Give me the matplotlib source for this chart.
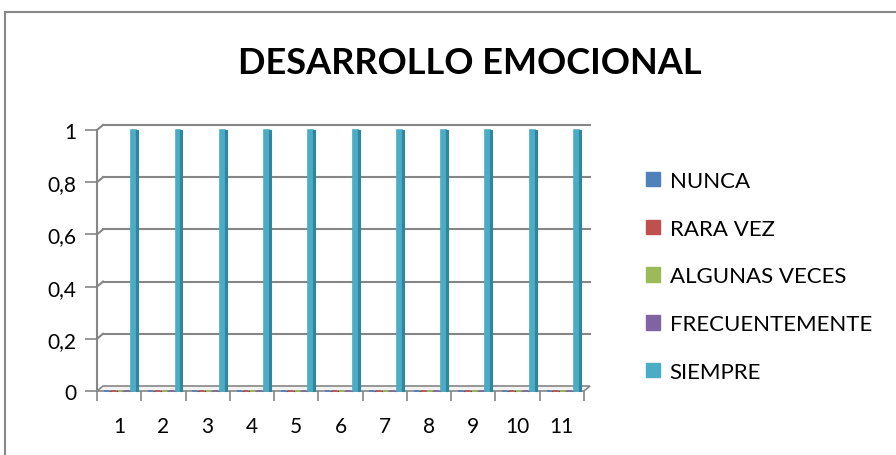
import matplotlib.pyplot as plt
from matplotlib.patches import Rectangle, Patch, Polygon
from matplotlib.lines import Line2D
from matplotlib.transforms import IdentityTransform
import numpy as np

plt.rcParams['font.family'] = ['Lato', 'DejaVu Sans']

categorias = ['1', '2', '3', '4', '5', '6', '7', '8', '9', '10', '11']
series = ['NUNCA', 'RARA VEZ', 'ALGUNAS VECES', 'FRECUENTEMENTE', 'SIEMPRE']
nunca = [0, 0, 0, 0, 0, 0, 0, 0, 0, 0, 0]
rara_vez = [0, 0, 0, 0, 0, 0, 0, 0, 0, 0, 0]
algunas_veces = [0, 0, 0, 0, 0, 0, 0, 0, 0, 0, 0]
frecuentemente = [0, 0, 0, 0, 0, 0, 0, 0, 0, 0, 0]
siempre = [1, 1, 1, 1, 1, 1, 1, 1, 1, 1, 1]
yticks = [0, 0.2, 0.4, 0.6, 0.8, 1]
ylabels = ['0', '0,2', '0,4', '0,6', '0,8', '1']

colores = ['#4F81BD', '#C0504D', '#9BBB59', '#8064A2', '#4BACC6']
sombras = ['#385D8A', '#8C3836', '#71893F', '#5C4776', '#31859C']
gris = '#868686'

fig = plt.figure(figsize=(8.96, 4.56), dpi=100)
# eje frontal (en pixeles: x 97..584, y 131..392)
ax = fig.add_axes([97 / 896, 1 - 392 / 456, 487 / 896, 261 / 456])
dx, dy = 6, 5  # profundidad del efecto 3D

x = np.arange(len(categorias))
w = 0.155
datos = [nunca, rara_vez, algunas_veces, frecuentemente, siempre]
for i, vals in enumerate(datos):
    pos = x + (i - 2) * w + 0.02
    ax.bar(pos, vals, width=w * 0.72, color=colores[i], edgecolor=colores[i],
           linewidth=1.2, zorder=4, clip_on=False)
    ax.bar(pos + w * 0.5, vals, width=w * 0.28, color=sombras[i],
           edgecolor=sombras[i], linewidth=0.8, zorder=4, clip_on=False)

ax.set_xlim(-0.5, len(categorias) - 0.5)
ax.set_ylim(0, 1)
ax.set_yticks(yticks)
ax.set_yticklabels(ylabels)
ax.set_xticks(x)
ax.set_xticklabels(categorias)
ax.set_xticks(np.arange(len(categorias) + 1) - 0.5, minor=True)
ax.tick_params(axis='x', which='major', length=0, labelsize=15, pad=18)
ax.tick_params(axis='x', which='minor', length=7, width=1.2, color=gris)
ax.tick_params(axis='y', length=9, width=1.2, color=gris, labelsize=15, pad=6)
for s in ['top', 'right', 'bottom']:
    ax.spines[s].set_visible(False)
ax.spines['left'].set_color(gris)
ax.spines['left'].set_linewidth(1.5)

# rejilla de fondo desplazada con diagonales y suelo (coordenadas en pixeles)
ident = IdentityTransform()
x0, x1 = 97, 584
for t in yticks:
    yp = ax.transData.transform((0, t))[1]
    if t == 0:
        ax.add_patch(Polygon([[x0, yp], [x1, yp], [x1 + dx, yp + dy], [x0 + dx, yp + dy]],
                             closed=True, transform=ident, facecolor='#F2F2F2',
                             edgecolor=gris, linewidth=1.2, zorder=1, clip_on=False))
        continue
    ax.add_line(Line2D([x0 + dx, x1 + dx], [yp + dy, yp + dy], transform=ident,
                       color=gris, linewidth=1.5, zorder=1, clip_on=False))
    ax.add_line(Line2D([x0, x0 + dx], [yp, yp + dy], transform=ident,
                       color=gris, linewidth=1.5, zorder=1, clip_on=False))

fig.text(470 / 896, 1 - 64 / 456, 'DESARROLLO EMOCIONAL', ha='center', va='center',
         fontsize=26, fontweight='bold')

handles = [Patch(facecolor=c, edgecolor=c) for c in colores]
fig.legend(handles, series, loc='upper left', bbox_to_anchor=(637 / 896, 1 - 163 / 456),
           frameon=False, fontsize=16, handlelength=0.62, handleheight=0.62,
           handletextpad=0.45, labelspacing=1.25, borderaxespad=0)

fig.patches.append(Rectangle((5 / 896, -0.1), 1.2, 1.1 - 13 / 456, transform=fig.transFigure,
                             fill=False, edgecolor='#888888', linewidth=1.5))

fig.savefig('out.png', dpi=100)
